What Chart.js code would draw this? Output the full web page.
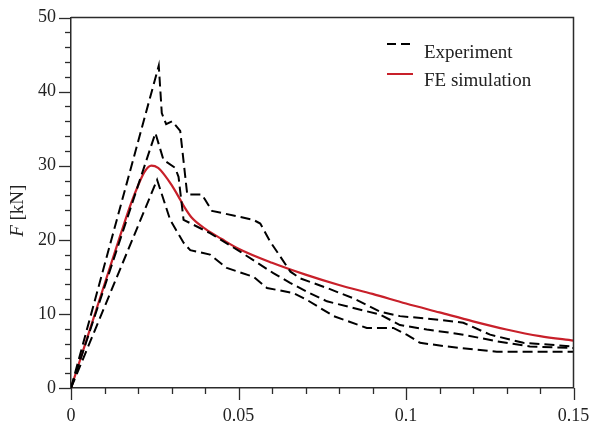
<!DOCTYPE html>
<html>
<head>
<meta charset="utf-8">
<script src="https://cdn.jsdelivr.net/npm/chart.js@4"></script>
<style>
  html, body { margin: 0; padding: 0; background: #fff; }
  #wrap { width: 589px; height: 427px; }
</style>
</head>
<body>
<div id="wrap"><canvas id="chart" width="589" height="427"></canvas></div>
<script>
// Experiment, specimen 1 (highest peak)
const exp1X = [0, 0.0262, 0.0271, 0.0284, 0.0302, 0.0326, 0.0347, 0.0391, 0.0421, 0.0544, 0.0565, 0.0594, 0.0655, 0.0684, 0.0764, 0.0843, 0.0923, 0.0982, 0.1102, 0.1171, 0.1251, 0.1350, 0.15]
const exp1Y = [0, 43.5, 37.1, 35.6, 36.0, 34.7, 26.1, 26.1, 23.9, 22.7, 22.2, 19.8, 15.7, 14.8, 13.5, 12.1, 10.3, 9.7, 9.2, 8.8, 7.2, 6.1, 5.6]

// Experiment, specimen 2
const exp2X = [0, 0.0252, 0.0276, 0.0311, 0.0321, 0.0336, 0.0415, 0.0505, 0.0604, 0.0654, 0.0704, 0.0764, 0.0843, 0.0923, 0.0982, 0.1062, 0.1171, 0.1271, 0.1370, 0.15]
const exp2Y = [0, 34.4, 30.8, 29.7, 28.5, 22.7, 20.9, 18.4, 15.5, 14.2, 13.0, 11.7, 10.8, 9.9, 8.5, 7.9, 7.2, 6.3, 5.6, 5.4]

// Experiment, specimen 3 (lowest peak)
const exp3X = [0, 0.0257, 0.0296, 0.0336, 0.0356, 0.0415, 0.0465, 0.0545, 0.0585, 0.0664, 0.0704, 0.0784, 0.0883, 0.0962, 0.1002, 0.1042, 0.1122, 0.1271, 0.15]
const exp3Y = [0, 28.1, 22.7, 19.6, 18.6, 18.0, 16.2, 15.0, 13.5, 12.8, 11.9, 9.7, 8.1, 8.1, 7.2, 6.1, 5.6, 4.9, 4.9]

// FE simulation
const simX = [0, 0.005, 0.01, 0.015, 0.018, 0.02, 0.022, 0.024, 0.026, 0.028, 0.03, 0.032, 0.034, 0.036, 0.04, 0.045, 0.05, 0.06, 0.07, 0.08, 0.09, 0.1, 0.11, 0.12, 0.13, 0.14, 0.15]
const simY = [0, 7.0, 14.0, 21.0, 25.0, 27.3, 29.2, 30.0, 29.7, 28.7, 27.4, 25.9, 24.3, 23.0, 21.5, 20.1, 18.8, 16.9, 15.3, 13.9, 12.7, 11.4, 10.2, 9.0, 7.9, 7.0, 6.4]

const legendLabels = ['Experiment', 'FE simulation']
const yTitle = ['F', ' [kN]']

const SERIF = '"Liberation Serif", "Times New Roman", serif'
const AXIS = '#2b2b2b'
const RED = '#c8202a'

function zip(xs, ys) {
  return xs.map((x, i) => ({x: x, y: ys[i]}))
}

function dashed(xs, ys) {
  return {
    data: zip(xs, ys),
    borderColor: '#000',
    borderWidth: 2,
    borderDash: [10, 5],
    pointRadius: 0,
    showLine: true,
    tension: 0
  }
}

// Frame, minor/major ticks, axis title and legend.
const decorPlugin = {
  id: 'decor',
  afterDraw: (chart) => {
    const {ctx, chartArea: {left, right, top, bottom}} = chart
    const xs = chart.scales.x
    const ys = chart.scales.y

    ctx.save()
    ctx.strokeStyle = AXIS
    ctx.lineWidth = 1.5

    // top and right frame lines
    ctx.beginPath()
    ctx.moveTo(left, top)
    ctx.lineTo(right, top)
    ctx.lineTo(right, bottom)
    ctx.stroke()

    ctx.lineWidth = 1.3
    // x ticks every 0.01, major every 0.05
    for (let i = 0; i <= 15; i++) {
      const px = Math.round(xs.getPixelForValue(i / 100)) + 0.5
      const len = i % 5 === 0 ? 12 : 6
      ctx.beginPath()
      ctx.moveTo(px, bottom)
      ctx.lineTo(px, bottom + len)
      ctx.stroke()
    }
    // y ticks every 2, major every 10
    for (let v = 0; v <= 50; v += 2) {
      const py = Math.round(ys.getPixelForValue(v)) + 0.5
      const len = v % 10 === 0 ? 12 : 6
      ctx.beginPath()
      ctx.moveTo(left, py)
      ctx.lineTo(left - len, py)
      ctx.stroke()
    }

    // y axis title, F in italics
    ctx.translate(18, (top + bottom) / 2 + 8)
    ctx.rotate(-Math.PI / 2)
    ctx.fillStyle = '#222'
    ctx.textBaseline = 'middle'
    ctx.textAlign = 'left'
    ctx.font = 'italic 19px ' + SERIF
    const w0 = ctx.measureText(yTitle[0]).width
    ctx.font = '19px ' + SERIF
    const w1 = ctx.measureText(yTitle[1]).width
    const start = -(w0 + w1) / 2
    ctx.font = 'italic 19px ' + SERIF
    ctx.fillText(yTitle[0], start, 0)
    ctx.font = '19px ' + SERIF
    ctx.fillText(yTitle[1], start + w0, 0)
    ctx.restore()

    // legend
    ctx.save()
    ctx.font = '19px ' + SERIF
    ctx.fillStyle = '#222'
    ctx.textBaseline = 'alphabetic'
    ctx.lineWidth = 2
    ctx.strokeStyle = '#000'
    ctx.setLineDash([9, 5])
    ctx.beginPath()
    ctx.moveTo(387, 44)
    ctx.lineTo(413, 44)
    ctx.stroke()
    ctx.setLineDash([])
    ctx.strokeStyle = RED
    ctx.beginPath()
    ctx.moveTo(387, 74)
    ctx.lineTo(413, 74)
    ctx.stroke()
    ctx.fillText(legendLabels[0], 424, 58)
    ctx.fillText(legendLabels[1], 424, 86)
    ctx.restore()
  }
}

const config = {
  type: 'scatter',
  data: {
    datasets: [
      dashed(exp1X, exp1Y),
      dashed(exp2X, exp2Y),
      dashed(exp3X, exp3Y),
      {
        data: zip(simX, simY),
        borderColor: RED,
        borderWidth: 2.2,
        pointRadius: 0,
        showLine: true,
        cubicInterpolationMode: 'monotone'
      }
    ]
  },
  options: {
    responsive: false,
    animation: false,
    devicePixelRatio: 1,
    layout: {
      padding: {top: 17.5, right: 15.5, left: 0, bottom: 0}
    },
    plugins: {
      legend: {display: false},
      tooltip: {enabled: false}
    },
    scales: {
      x: {
        type: 'linear',
        min: 0,
        max: 0.15,
        afterFit: (scale) => {
          scale.height = 39
          scale.paddingLeft = 0
          scale.paddingRight = 0
        },
        ticks: {
          stepSize: 0.05,
          padding: 17,
          color: '#222',
          font: {family: SERIF, size: 18},
          callback: (value) => String(+value.toFixed(2))
        },
        grid: {drawOnChartArea: false, drawTicks: false},
        border: {color: AXIS, width: 1.5}
      },
      y: {
        min: 0,
        max: 50,
        afterFit: (scale) => {
          scale.width = 71
          scale.paddingTop = 0
          scale.paddingBottom = 0
        },
        ticks: {
          stepSize: 10,
          padding: 15,
          color: '#222',
          font: {family: SERIF, size: 18}
        },
        grid: {drawOnChartArea: false, drawTicks: false},
        border: {color: AXIS, width: 1.5}
      }
    }
  },
  plugins: [decorPlugin]
}

new Chart(document.getElementById('chart'), config)
</script>
</body>
</html>
